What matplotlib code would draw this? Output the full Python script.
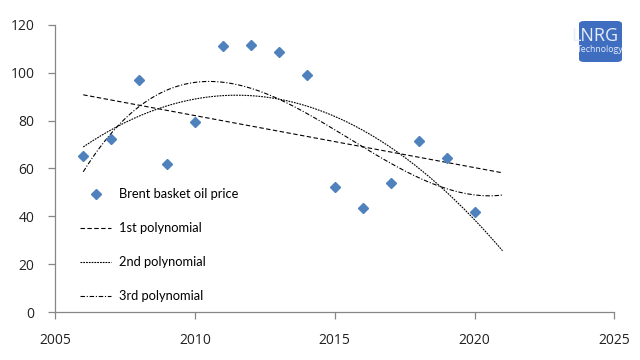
import matplotlib
matplotlib.use("Agg")
import matplotlib.pyplot as plt
import numpy as np
from matplotlib.patches import FancyBboxPatch

years = [2006, 2007, 2008, 2009, 2010, 2011, 2012, 2013, 2014,
         2015, 2016, 2017, 2018, 2019, 2020]
brent = [65.2, 72.4, 96.9, 61.7, 79.6, 111.3, 111.6, 108.6, 99.0,
         52.3, 43.6, 54.1, 71.3, 64.3, 41.9]
x_ticks = [2005, 2010, 2015, 2020, 2025]
y_ticks = [0, 20, 40, 60, 80, 100, 120]
trend_labels = ["1st polynomial", "2nd polynomial", "3rd polynomial"]
trend_styles = [(0, (4, 2.2)), (0, (1.6, 0.9)), (0, (4, 1.6, 1, 1.6))]

BLUE = "#4F81BD"
AXIS = "#868686"

fig = plt.figure(figsize=(6.4, 3.6), dpi=100)
ax = fig.add_axes([0.0864, 0.1333, 0.8734, 0.7973])

x = np.array(years, dtype=float)
y = np.array(brent)
xs = np.linspace(2006, 2021, 200)

ax.plot(years, brent, ls="none", marker="D", ms=5.5, color=BLUE,
        mec=BLUE, label="Brent basket oil price", zorder=3)

# Excel-style polynomial trendlines, one period forward
for deg, lab, st in zip([1, 2, 3], trend_labels, trend_styles):
    coef = np.polyfit(x - 2005, y, deg)
    ax.plot(xs, np.polyval(coef, xs - 2005), color="black", lw=0.8,
            ls=st, label=lab)

ax.set_xlim(2005, 2025)
ax.set_ylim(0, 120)
ax.set_xticks(x_ticks)
ax.set_yticks(y_ticks)
for s in ["top", "right"]:
    ax.spines[s].set_visible(False)
for s in ["left", "bottom"]:
    ax.spines[s].set_color(AXIS)
    ax.spines[s].set_linewidth(0.9)
ax.tick_params(axis="both", direction="out", length=5, width=0.9,
               color=AXIS, labelsize=10, labelcolor="#222222")
ax.tick_params(axis="y", pad=10)
ax.tick_params(axis="x", pad=10)
for t in ax.get_xticklabels() + ax.get_yticklabels():
    t.set_family("Open Sans")

leg = ax.legend(loc="center left", bbox_to_anchor=(0.045, 0.233),
                frameon=False, handlelength=2.4,
                handletextpad=0.6, labelspacing=1.7, borderpad=0,
                borderaxespad=0, prop={"family": "Lato", "size": 9.3})

# logo
fig.patches.append(FancyBboxPatch((579 / 640, 1 - 62 / 360), 43 / 640, 41 / 360,
                                  boxstyle="round,pad=0,rounding_size=0.008",
                                  transform=fig.transFigure, facecolor="#3F6EC0",
                                  edgecolor="none", zorder=5))
fig.text(595 / 640, 1 - 36 / 360, "LNRG", ha="center", va="center",
         fontsize=13, color="#E6ECF8", family="Open Sans", zorder=6)
fig.text(600 / 640, 1 - 50 / 360, "Technology", ha="center", va="center",
         fontsize=6.3, color="#E6ECF8", family="Open Sans", zorder=6)

fig.savefig("out.png", dpi=100, facecolor="white")
